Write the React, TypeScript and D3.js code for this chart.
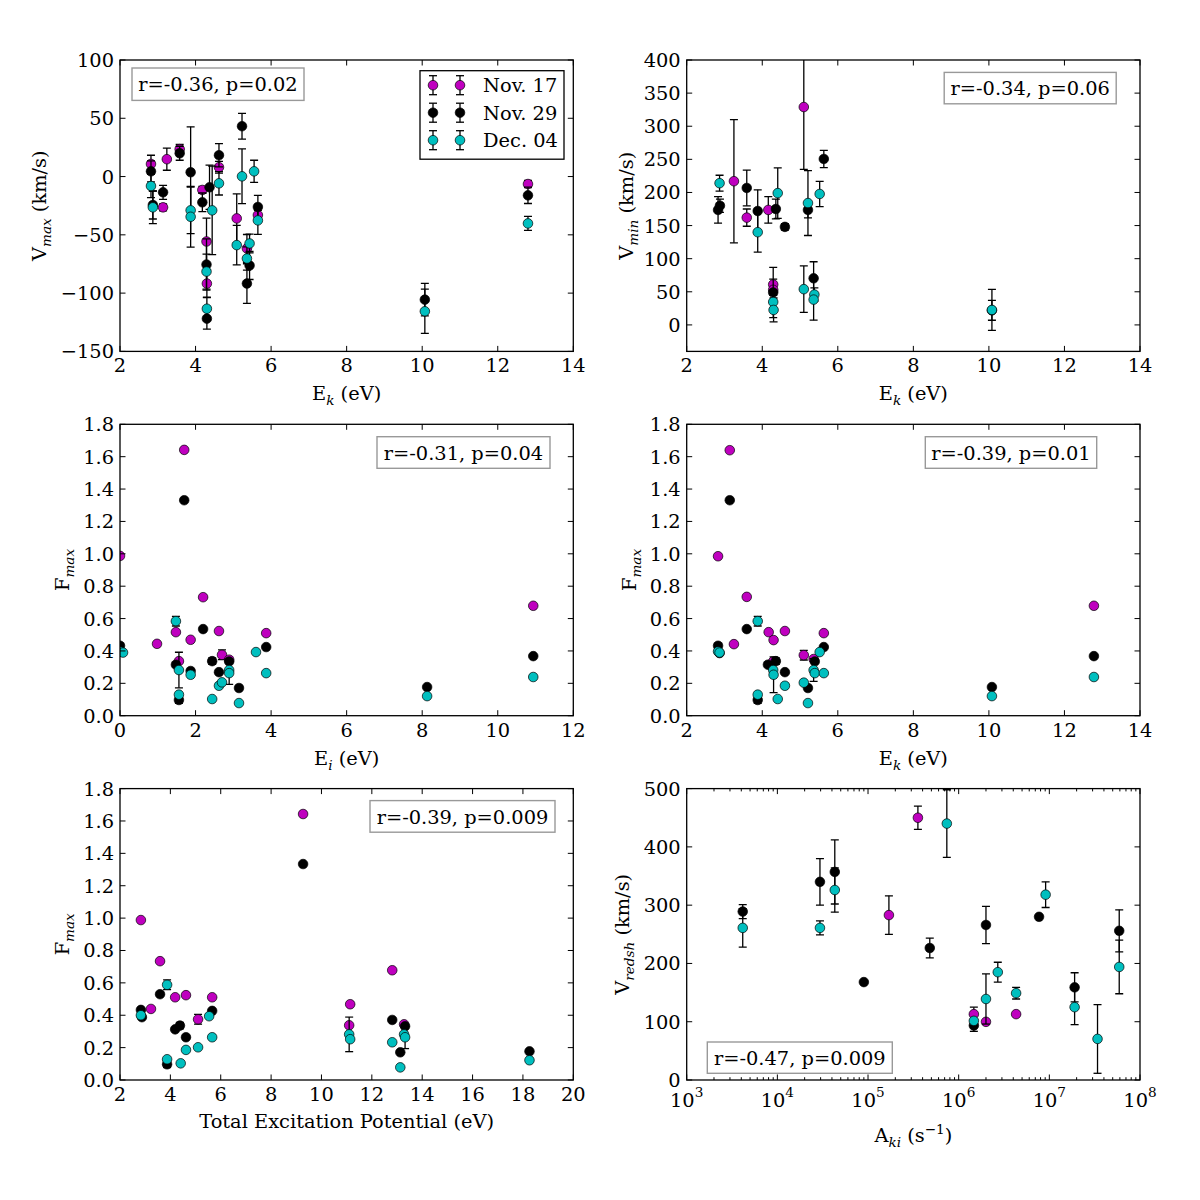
import * as d3 from 'd3';
import { ReactNode } from 'react';

type Pt = [number, number, number]; // x, y, error

const MAGENTA = '#bf00bf';
const BLACK = '#000000';
const CYAN = '#00bfbf';
const FONT = '"DejaVu Serif", serif';

const legendLabels = ['Nov. 17', 'Nov. 29', 'Dec. 04'];

// V_max vs E_k
const vmaxNov17: Pt[] = [
    [2.82, 10.8, 7.5], [3.14, -26.4, 3], [3.24, 14.9, 9.5], [3.58, 23.5, 4], [4.18, -11.5, 3],
    [4.29, -55.7, 20], [4.30, -91.8, 12], [4.62, 8.0, 5], [5.09, -35.9, 21], [5.36, -61.7, 12],
    [5.65, -33.0, 4], [12.80, -6.4, 3],
];
const vmaxNov29: Pt[] = [
    [2.82, 4.5, 9], [2.87, -24.4, 12], [3.14, -13.5, 6], [3.58, 20.0, 6], [3.87, 3.7, 39],
    [4.18, -22.1, 8], [4.29, -75.5, 22], [4.30, -121.9, 9], [4.37, -9.2, 19], [4.62, 18.3, 10],
    [5.23, 43.2, 11], [5.36, -91.8, 17], [5.43, -76.3, 12], [5.65, -26.1, 10], [10.07, -105.6, 14],
    [12.80, -16.1, 7],
];
const vmaxDec04: Pt[] = [
    [2.82, -8.1, 10], [2.87, -26.4, 14], [3.87, -29.0, 20], [3.87, -34.5, 26], [4.29, -81.5, 15],
    [4.30, -113.4, 10], [4.44, -29.0, 38], [4.62, -5.8, 10], [5.09, -58.8, 17], [5.23, 0.2, 23.5],
    [5.36, -70.3, 10], [5.43, -57.4, 8], [5.55, 4.5, 9.5], [5.65, -37.6, 12], [10.07, -115.6, 19],
    [12.80, -40.2, 6],
];

// V_min vs E_k
const vminNov17: Pt[] = [
    [3.25, 217, 93], [3.59, 162, 13], [4.16, 173.6, 20], [4.29, 61, 8], [4.29, 53, 5], [5.10, 329, 94],
];
const vminNov29: Pt[] = [
    [2.83, 173.6, 20], [2.88, 180, 10], [3.59, 206.8, 27], [3.88, 172, 32], [4.29, 49, 38],
    [4.36, 175, 15], [4.60, 148, 5], [5.21, 173.6, 12], [5.36, 70.4, 25], [5.63, 250.6, 13],
    [10.08, 22, 15],
];
const vminDec04: Pt[] = [
    [2.87, 214, 12], [3.88, 140, 30], [4.29, 34.7, 10], [4.30, 22.6, 18], [4.41, 199, 38],
    [5.10, 54, 35], [5.21, 184, 49], [5.38, 45.8, 10], [5.36, 38.2, 31], [5.52, 197.7, 19],
    [10.08, 22.6, 31],
];

// F_max vs E_i
const fEiNov17: Pt[] = [
    [0, 0.987, 0], [0.98, 0.444, 0], [1.48, 0.516, 0], [1.56, 0.337, 0], [1.70, 1.642, 0],
    [1.87, 0.469, 0], [2.20, 0.732, 0], [2.62, 0.523, 0], [2.70, 0.376, 0.03], [2.89, 0.346, 0],
    [3.87, 0.510, 0], [10.94, 0.679, 0],
];
const fEiNov29: Pt[] = [
    [0, 0.432, 0], [1.48, 0.315, 0], [1.56, 0.097, 0.02], [1.70, 1.331, 0], [1.87, 0.276, 0],
    [2.20, 0.535, 0], [2.44, 0.337, 0.02], [2.62, 0.269, 0], [2.89, 0.335, 0], [3.15, 0.171, 0],
    [3.87, 0.424, 0], [8.13, 0.177, 0], [10.94, 0.368, 0],
];
const fEiDec04: Pt[] = [
    [0, 0.397, 0], [0.08, 0.39, 0], [1.48, 0.584, 0.03], [1.56, 0.282, 0.11], [1.56, 0.130, 0],
    [1.87, 0.253, 0], [2.44, 0.103, 0], [2.62, 0.185, 0], [2.70, 0.206, 0], [2.89, 0.282, 0],
    [2.89, 0.263, 0.07], [3.15, 0.078, 0], [3.60, 0.393, 0], [3.87, 0.263, 0], [8.13, 0.121, 0],
    [10.94, 0.239, 0],
];

// F_max vs E_k
const fEkNov17: Pt[] = [
    [2.83, 0.985, 0], [3.14, 1.640, 0], [3.25, 0.442, 0], [3.59, 0.734, 0], [4.17, 0.516, 0],
    [4.29, 0.335, 0], [4.30, 0.467, 0], [4.60, 0.523, 0], [5.10, 0.374, 0.03], [5.36, 0.35, 0],
    [5.63, 0.510, 0], [12.78, 0.679, 0],
];
const fEkNov29: Pt[] = [
    [2.83, 0.432, 0], [2.87, 0.387, 0], [3.14, 1.331, 0], [3.59, 0.535, 0], [3.88, 0.097, 0.02],
    [4.15, 0.315, 0], [4.36, 0.337, 0.02], [4.60, 0.269, 0], [5.21, 0.171, 0], [5.39, 0.335, 0],
    [5.63, 0.424, 0], [10.08, 0.177, 0], [12.78, 0.368, 0],
];
const fEkDec04: Pt[] = [
    [2.83, 0.397, 0], [2.87, 0.39, 0], [3.88, 0.584, 0.03], [3.88, 0.130, 0], [4.29, 0.282, 0],
    [4.30, 0.253, 0.11], [4.41, 0.103, 0], [4.60, 0.185, 0], [5.10, 0.204, 0], [5.21, 0.078, 0],
    [5.36, 0.282, 0.07], [5.39, 0.263, 0], [5.52, 0.393, 0], [5.63, 0.263, 0], [10.08, 0.121, 0],
    [12.78, 0.239, 0],
];

// F_max vs total excitation potential
const fTotNov17: Pt[] = [
    [2.83, 0.988, 0], [3.23, 0.439, 0], [3.59, 0.734, 0], [4.19, 0.511, 0], [4.62, 0.524, 0],
    [5.10, 0.375, 0.03], [5.66, 0.511, 0], [9.27, 1.643, 0], [11.14, 0.468, 0], [11.10, 0.338, 0],
    [12.81, 0.678, 0], [13.28, 0.344, 0],
];
const fTotNov29: Pt[] = [
    [2.83, 0.433, 0], [2.87, 0.388, 0], [3.59, 0.530, 0], [3.87, 0.097, 0.02], [4.19, 0.313, 0],
    [4.38, 0.336, 0.02], [4.62, 0.264, 0], [5.66, 0.427, 0], [9.27, 1.334, 0], [12.81, 0.371, 0],
    [13.13, 0.171, 0], [13.32, 0.332, 0], [18.26, 0.177, 0],
];
const fTotDec04: Pt[] = [
    [2.83, 0.400, 0], [3.87, 0.588, 0.03], [3.87, 0.128, 0], [4.41, 0.103, 0], [4.62, 0.186, 0],
    [5.10, 0.202, 0], [5.54, 0.394, 0], [5.66, 0.264, 0], [11.10, 0.282, 0.107], [11.14, 0.252, 0],
    [12.81, 0.233, 0], [13.13, 0.078, 0], [13.28, 0.282, 0], [13.32, 0.264, 0.07], [18.26, 0.122, 0],
];

// V_redsh vs A_ki
const vredNov17: Pt[] = [
    [3.55e5, 450, 20], [1.7e5, 283, 33], [1.47e6, 113, 12], [2.0e6, 99.8, 0], [4.3e6, 113, 0],
];
const vredNov29: Pt[] = [
    [4.15e3, 289, 12], [2.95e4, 340, 40], [4.3e4, 357, 55], [9.0e4, 168, 0], [4.8e5, 226.5, 17],
    [1.47e6, 93.5, 10], [2.0e6, 266, 32], [7.7e6, 280, 0], [1.9e7, 159, 25], [5.9e7, 256, 36],
];
const vredDec04: Pt[] = [
    [4.15e3, 261, 33], [2.95e4, 261, 12], [4.3e4, 326, 38], [7.4e5, 440, 58], [1.47e6, 101.5, 0],
    [2.0e6, 139, 43], [2.7e6, 185, 17], [4.3e6, 149, 10], [9.1e6, 318, 22], [1.9e7, 125, 30],
    [3.4e7, 70.5, 59], [5.9e7, 194, 46],
];

const ekTicks = [2, 4, 6, 8, 10, 12, 14];
const eiTicks = [0, 2, 4, 6, 8, 10, 12];
const totTicks = [2, 4, 6, 8, 10, 12, 14, 16, 18, 20];
const akiTicks = [1e3, 1e4, 1e5, 1e6, 1e7, 1e8];
const vmaxTicks = [-150, -100, -50, 0, 50, 100];
const vminTicks = [0, 50, 100, 150, 200, 250, 300, 350, 400];
const fTicks = [0, 0.2, 0.4, 0.6, 0.8, 1.0, 1.2, 1.4, 1.6, 1.8];
const vredTicks = [0, 100, 200, 300, 400, 500];

const stats = ['r=-0.36, p=0.02', 'r=-0.34, p=0.06', 'r=-0.31, p=0.04', 'r=-0.39, p=0.01', 'r=-0.39, p=0.009', 'r=-0.47, p=0.009'];

const COLORS = [MAGENTA, BLACK, CYAN];
const FS = 19.4;
const TICK = 5.5;
const MINOR = 2.8;

// figure geometry (subplots 3x2)
const W = 453.3;
const H = 291.4;
const COLS = [120, 686.7];
const ROWS = [60, 424.3, 788.6];

interface PanelProps {
    id: string;
    x0: number;
    y0: number;
    log?: boolean;
    xDomain: [number, number];
    xTicks: number[];
    yDomain: [number, number];
    yTicks: number[];
    yFmt: (v: number) => string;
    series: Pt[][];
    xLabel: ReactNode;
    xLabelDy: number;
    yLabel: ReactNode;
    yLabelDx: number;
    stat: string;
    statBox: [number, number, number, number];
}

const ErrBar = ({ cx, y1, y2 }: { cx: number; y1: number; y2: number }) => (
    <g stroke="#000" strokeWidth={1.3}>
        <line x1={cx} x2={cx} y1={y1} y2={y2} />
        <line x1={cx - 4} x2={cx + 4} y1={y1} y2={y1} />
        <line x1={cx - 4} x2={cx + 4} y1={y2} y2={y2} />
    </g>
);

const Panel = (p: PanelProps) => {
    const x: (v: number) => number = p.log
        ? d3.scaleLog().domain(p.xDomain).range([0, W])
        : d3.scaleLinear().domain(p.xDomain).range([0, W]);
    const y = d3.scaleLinear().domain(p.yDomain).range([H, 0]);
    const minors = p.log
        ? d3.range(3, 8).flatMap(e => d3.range(2, 10).map(m => m * 10 ** e))
        : [];
    const clip = `clip-${p.id}`;
    const [bx, by, bw, bh] = p.statBox;

    return (
        <g transform={`translate(${p.x0},${p.y0})`} fontFamily={FONT}>
            <defs>
                <clipPath id={clip}><rect width={W} height={H} /></clipPath>
            </defs>
            <g clipPath={`url(#${clip})`}>
                {p.series.map((pts, si) => (
                    <g key={si}>
                        {pts.filter(d => d[2] > 0).map((d, i) => (
                            <ErrBar key={i} cx={x(d[0])} y1={y(d[1] - d[2])} y2={y(d[1] + d[2])} />
                        ))}
                        {pts.map((d, i) => (
                            <circle key={i} cx={x(d[0])} cy={y(d[1])} r={4.8}
                                fill={COLORS[si]} stroke="#000" strokeWidth={0.7} />
                        ))}
                    </g>
                ))}
            </g>

            {/* ticks on all four sides, pointing in */}
            <g stroke="#000" strokeWidth={1}>
                {p.xTicks.map(t => (
                    <g key={t}>
                        <line x1={x(t)} x2={x(t)} y1={H} y2={H - TICK} />
                        <line x1={x(t)} x2={x(t)} y1={0} y2={TICK} />
                    </g>
                ))}
                {minors.map(t => (
                    <g key={t}>
                        <line x1={x(t)} x2={x(t)} y1={H} y2={H - MINOR} />
                        <line x1={x(t)} x2={x(t)} y1={0} y2={MINOR} />
                    </g>
                ))}
                {p.yTicks.map(t => (
                    <g key={t}>
                        <line x1={0} x2={TICK} y1={y(t)} y2={y(t)} />
                        <line x1={W} x2={W - TICK} y1={y(t)} y2={y(t)} />
                    </g>
                ))}
            </g>

            <g fontSize={FS} fill="#000">
                {p.xTicks.map(t => p.log ? (
                    <text key={t} x={x(t)} y={H + 27} textAnchor="middle">
                        10<tspan dy={-10} fontSize={13.6}>{Math.round(Math.log10(t))}</tspan>
                    </text>
                ) : (
                    <text key={t} x={x(t)} y={H + 21} textAnchor="middle">{t}</text>
                ))}
                {p.yTicks.map(t => (
                    <text key={t} x={-6} y={y(t) + 7} textAnchor="end">{p.yFmt(t)}</text>
                ))}
                <text x={W / 2} y={H + p.xLabelDy} textAnchor="middle">{p.xLabel}</text>
                <text transform={`translate(${p.yLabelDx},${H / 2}) rotate(-90)`} textAnchor="middle">{p.yLabel}</text>
            </g>

            <rect x={bx} y={by} width={bw} height={bh} fill="#fff" stroke="#999" strokeWidth={1.4} />
            <text x={bx + bw / 2} y={by + 23} textAnchor="middle" fontSize={FS}>{p.stat}</text>

            <rect width={W} height={H} fill="none" stroke="#000" strokeWidth={1.3} />
        </g>
    );
};

const Sub = ({ base, sub, rest }: { base: string; sub: string; rest: string }) => (
    <>
        {base}
        <tspan dy={5} fontSize={13.6} fontStyle="italic">{sub}</tspan>
        <tspan dy={-5}>{rest}</tspan>
    </>
);

const Legend = ({ x0, y0 }: { x0: number; y0: number }) => (
    <g transform={`translate(${x0},${y0})`} fontFamily={FONT}>
        <rect width={144} height={88.5} fill="#fff" stroke="#000" strokeWidth={1.3} />
        {legendLabels.map((lab, i) => {
            const cy = 14.5 + i * 27.5;
            return (
                <g key={lab}>
                    {[13, 40].map(cx => (
                        <g key={cx}>
                            <ErrBar cx={cx} y1={cy - 9.5} y2={cy + 9.5} />
                            <circle cx={cx} cy={cy} r={4.8} fill={COLORS[i]} stroke="#000" strokeWidth={0.7} />
                        </g>
                    ))}
                    <text x={63} y={cy + 7} fontSize={FS}>{lab}</text>
                </g>
            );
        })}
    </g>
);

const intFmt = d3.format('d');
const f1 = d3.format('.1f');

export default function App() {
    return (
        <svg width={1200} height={1200} style={{ position: 'absolute', left: 0, top: 0, background: '#fff' }}>
            <rect width={1200} height={1200} fill="#fff" />
            <Panel id="p1" x0={COLS[0]} y0={ROWS[0]} xDomain={[2, 14]} xTicks={ekTicks}
                yDomain={[-150, 100]} yTicks={vmaxTicks} yFmt={intFmt}
                series={[vmaxNov17, vmaxNov29, vmaxDec04]}
                xLabel={<Sub base="E" sub="k" rest=" (eV)" />} xLabelDy={49}
                yLabel={<Sub base="V" sub="max" rest=" (km/s)" />} yLabelDx={-74}
                stat={stats[0]} statBox={[12, 8, 172, 32.4]} />
            <Legend x0={420} y0={70.7} />
            <Panel id="p2" x0={COLS[1]} y0={ROWS[0]} xDomain={[2, 14]} xTicks={ekTicks}
                yDomain={[-40, 400]} yTicks={vminTicks} yFmt={intFmt}
                series={[vminNov17, vminNov29, vminDec04]}
                xLabel={<Sub base="E" sub="k" rest=" (eV)" />} xLabelDy={49}
                yLabel={<Sub base="V" sub="min" rest=" (km/s)" />} yLabelDx={-54}
                stat={stats[1]} statBox={[257.5, 12.4, 172, 31.4]} />
            <Panel id="p3" x0={COLS[0]} y0={ROWS[1]} xDomain={[0, 12]} xTicks={eiTicks}
                yDomain={[0, 1.8]} yTicks={fTicks} yFmt={f1}
                series={[fEiNov17, fEiNov29, fEiDec04]}
                xLabel={<Sub base="E" sub="i" rest=" (eV)" />} xLabelDy={49}
                yLabel={<Sub base="F" sub="max" rest="" />} yLabelDx={-51}
                stat={stats[2]} statBox={[257, 12.4, 173, 31.6]} />
            <Panel id="p4" x0={COLS[1]} y0={ROWS[1]} xDomain={[2, 14]} xTicks={ekTicks}
                yDomain={[0, 1.8]} yTicks={fTicks} yFmt={f1}
                series={[fEkNov17, fEkNov29, fEkDec04]}
                xLabel={<Sub base="E" sub="k" rest=" (eV)" />} xLabelDy={49}
                yLabel={<Sub base="F" sub="max" rest="" />} yLabelDx={-51}
                stat={stats[3]} statBox={[238.6, 12.4, 171.4, 31.6]} />
            <Panel id="p5" x0={COLS[0]} y0={ROWS[2]} xDomain={[2, 20]} xTicks={totTicks}
                yDomain={[0, 1.8]} yTicks={fTicks} yFmt={f1}
                series={[fTotNov17, fTotNov29, fTotDec04]}
                xLabel="Total Excitation Potential (eV)" xLabelDy={48}
                yLabel={<Sub base="F" sub="max" rest="" />} yLabelDx={-51}
                stat={stats[4]} statBox={[250, 12, 185, 31.6]} />
            <Panel id="p6" x0={COLS[1]} y0={ROWS[2]} log xDomain={[1e3, 1e8]} xTicks={akiTicks}
                yDomain={[0, 500]} yTicks={vredTicks} yFmt={intFmt}
                series={[vredNov17, vredNov29, vredDec04]}
                xLabel={<>A<tspan dy={5} fontSize={13.6} fontStyle="italic">ki</tspan><tspan dy={-5}> (s</tspan><tspan dy={-8} fontSize={13.6}>−1</tspan><tspan dy={8}>)</tspan></>}
                xLabelDy={62}
                yLabel={<Sub base="V" sub="redsh" rest=" (km/s)" />} yLabelDx={-58}
                stat={stats[5]} statBox={[20.6, 253.4, 185, 31.3]} />
        </svg>
    );
}
